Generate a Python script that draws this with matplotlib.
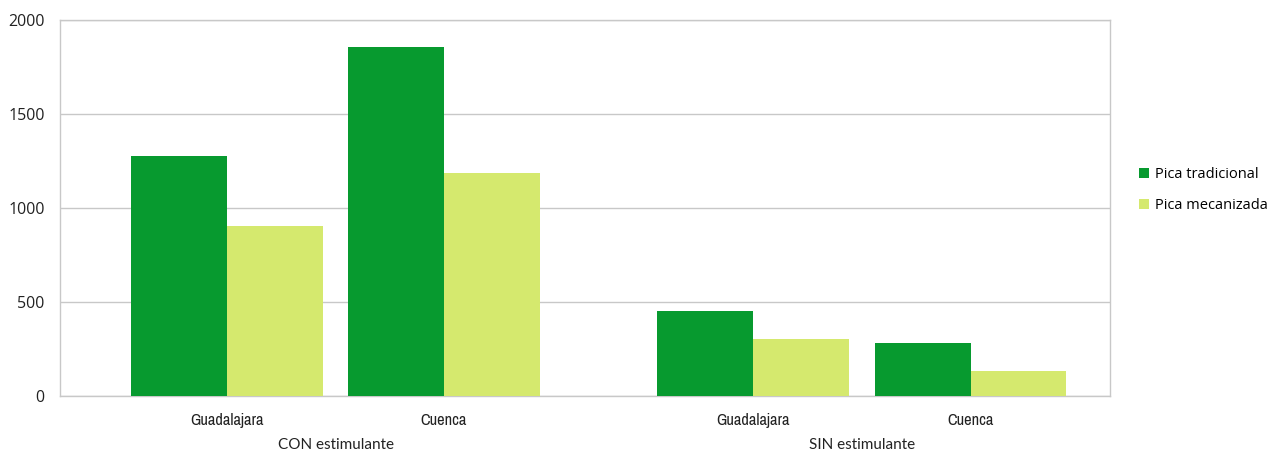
import numpy as np
import matplotlib
matplotlib.use("Agg")
import matplotlib.pyplot as plt
from matplotlib import font_manager

# data
categories = ["Guadalajara", "Cuenca", "Guadalajara", "Cuenca"]
groups = ["CON estimulante", "SIN estimulante"]
tradicional = [1275, 1857, 452, 280]
mecanizada = [904, 1186, 305, 131]
series_names = ["Pica tradicional", "Pica mecanizada"]

c_trad = "#079a2f"
c_mec = "#d5e96e"
grid_c = "#c8c8c8"
txt_c = "#222222"


def is_regular(f):
    wt = f.weight
    if isinstance(wt, str):
        return wt in ("normal", "regular", "book")
    return 350 <= wt <= 450


# narrow regular font for the category labels, if there is one
narrow_prop = None
for pref in ["Narrow", "Condensed"]:
    for f in font_manager.fontManager.ttflist:
        if (pref in f.name or pref.lower() in str(f.stretch)) and is_regular(f) and f.style == "normal":
            narrow_prop = font_manager.FontProperties(fname=f.fname, size=11.8)
            break
    if narrow_prop is not None:
        break
if narrow_prop is None:
    narrow_prop = font_manager.FontProperties(family="DejaVu Sans", stretch="condensed", size=9.5)

fig = plt.figure(figsize=(12.76, 4.5), dpi=100)
ax = fig.add_axes([60/1276, 1-396/450, 1050/1276, 376/450])

x = np.array([0, 1, 2.424, 3.427])
w = 0.442
ax.bar(x - w/2, tradicional, w, color=c_trad, label=series_names[0], zorder=3)
ax.bar(x + w/2, mecanizada, w, color=c_mec, label=series_names[1], zorder=3)

ax.set_xlim(-0.77, 4.07)
ax.set_ylim(0, 2000)
ax.set_yticks(np.arange(0, 2001, 500))
ax.yaxis.grid(True, color=grid_c, linewidth=1, zorder=0)
ax.set_axisbelow(True)
for s in ax.spines.values():
    s.set_color(grid_c)
    s.set_linewidth(1)
ax.tick_params(axis="y", length=0, pad=11, labelsize=11.5, labelcolor=txt_c)
for t in ax.get_yticklabels():
    t.set_fontfamily("Open Sans")

ax.set_xticks(x)
ax.set_xticklabels(categories)
ax.tick_params(axis="x", length=0, pad=12, labelcolor=txt_c)
for t in ax.get_xticklabels():
    t.set_fontproperties(narrow_prop)

trans = ax.get_xaxis_transform()
ax.text((x[0] + x[1]) / 2, -0.13, groups[0], transform=trans, ha="center", va="center",
        fontsize=11, family="Lato", color=txt_c)
ax.text((x[2] + x[3]) / 2, -0.13, groups[1], transform=trans, ha="center", va="center",
        fontsize=11, family="Lato", color=txt_c)

leg = fig.legend(loc="center left", bbox_to_anchor=(1126/1276, 1-190/450), frameon=False,
                 handlelength=0.7, handleheight=0.7, handletextpad=0.4, labelspacing=1.1,
                 prop={"family": "Open Sans", "size": 10.5})

fig.savefig("out.png", dpi=100)
